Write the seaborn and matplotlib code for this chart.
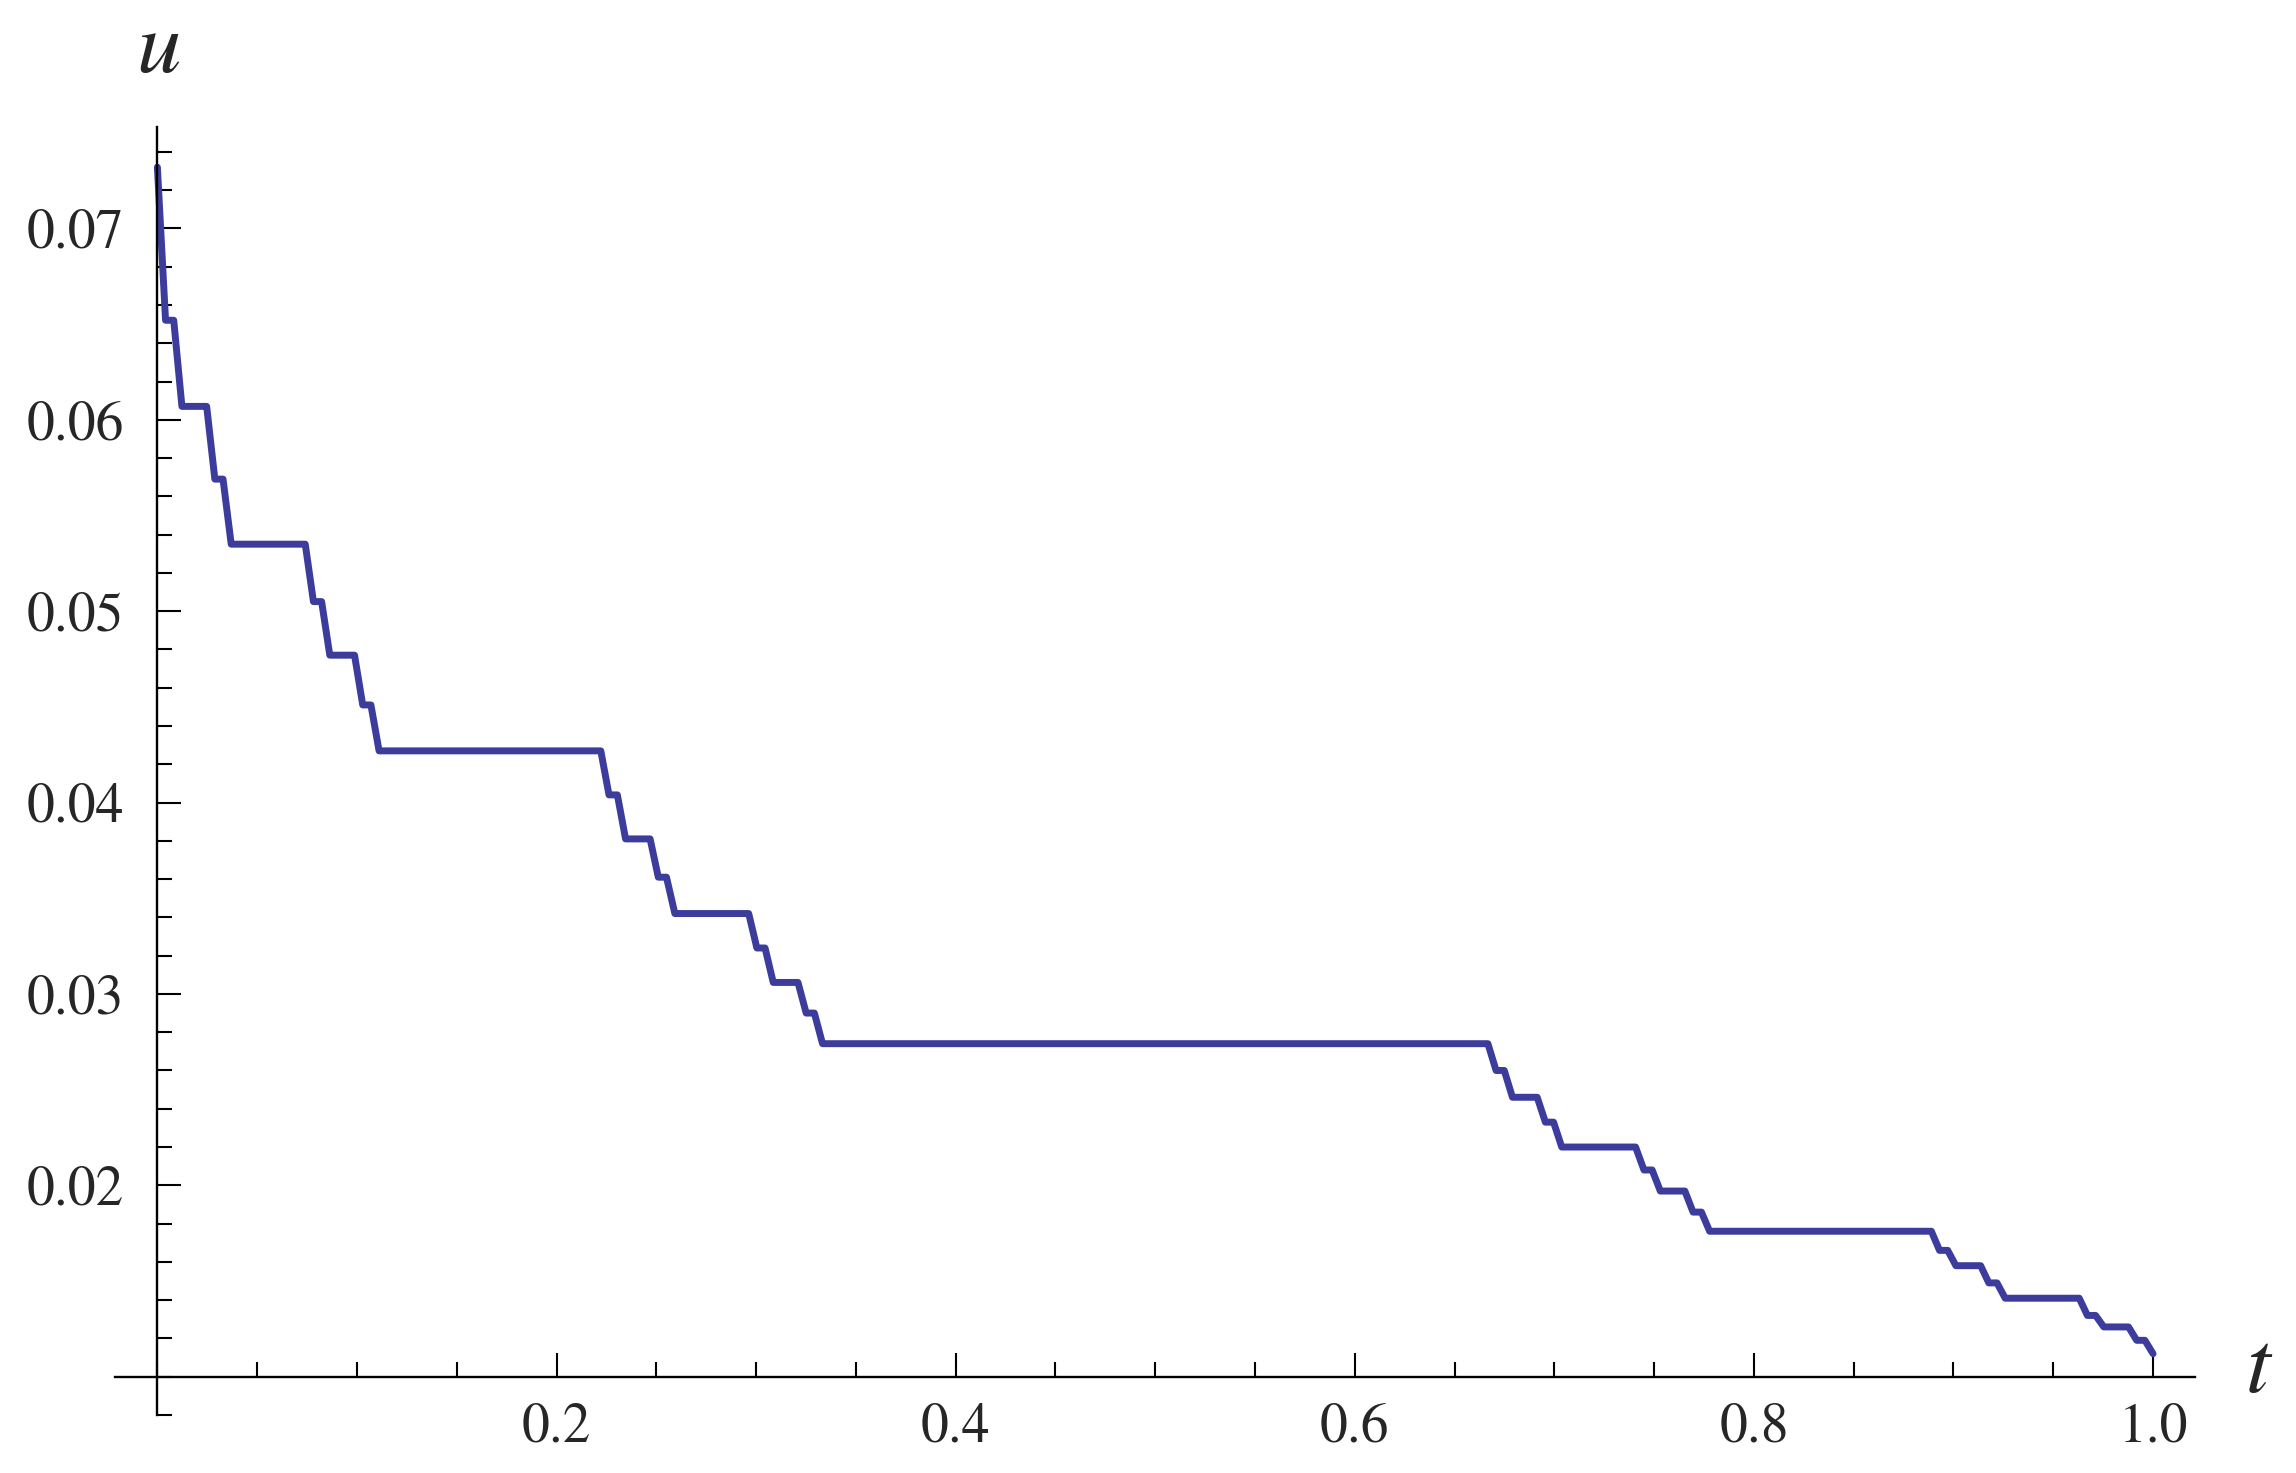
"""
Devil's-staircase style step curve u(t), drawn Mathematica-like with crossing axes.
"""

import matplotlib
matplotlib.use("Agg")
import matplotlib.pyplot as plt
import matplotlib.ticker as mticker
import seaborn as sns
import pandas as pd

# curve values
u_start = 0.0732
u_end = 0.0112

plateau_start = [
    0.0041, 0.0123, 0.0288, 0.0370, 0.0782, 0.0864, 0.1029, 0.1111,
    0.2263, 0.2346, 0.2510, 0.2593, 0.3004, 0.3086, 0.3251, 0.3333,
    0.6708, 0.6790, 0.6955, 0.7037, 0.7449, 0.7531, 0.7695, 0.7778,
    0.8930, 0.9012, 0.9177, 0.9259, 0.9671, 0.9753, 0.9918,
]
plateau_end = [
    0.0082, 0.0247, 0.0329, 0.0741, 0.0823, 0.0988, 0.1070, 0.2222,
    0.2305, 0.2469, 0.2551, 0.2963, 0.3045, 0.3210, 0.3292, 0.6667,
    0.6749, 0.6914, 0.6996, 0.7407, 0.7490, 0.7654, 0.7737, 0.8889,
    0.8971, 0.9136, 0.9218, 0.9630, 0.9712, 0.9877, 0.9959,
]
plateau_u = [
    0.0652, 0.0607, 0.0569, 0.0535, 0.0505, 0.0477, 0.0451, 0.0427,
    0.0404, 0.0381, 0.0361, 0.0342, 0.0324, 0.0306, 0.0290, 0.0274,
    0.0260, 0.0246, 0.0233, 0.0220, 0.0208, 0.0197, 0.0186, 0.0176,
    0.0166, 0.0158, 0.0149, 0.0141, 0.0132, 0.0126, 0.0119,
]

x_major = [0.2, 0.4, 0.6, 0.8, 1.0]
y_major = [0.02, 0.03, 0.04, 0.05, 0.06, 0.07]

# build the polyline: start point, both ends of every plateau, end point
t_pts = [0.0]
u_pts = [u_start]
for a, b, v in zip(plateau_start, plateau_end, plateau_u):
    t_pts += [a, b]
    u_pts += [v, v]
t_pts.append(1.0)
u_pts.append(u_end)
curve = pd.DataFrame({"t": t_pts, "u": u_pts})

sns.set_theme(style="white")
plt.rcParams["font.family"] = ["STIXGeneral", "Liberation Serif", "DejaVu Serif"]
plt.rcParams["mathtext.fontset"] = "stix"

fig = plt.figure(figsize=(22.96, 14.73), dpi=100)
ax = fig.add_axes([0.0502, 0.0394, 0.9058, 0.8744])

sns.lineplot(data=curve, x="t", y="u", ax=ax, estimator=None, sort=False,
             color="#3c3c9c", linewidth=5.0)

ax.set_xlim(-0.0211, 1.021)
ax.set_ylim(0.008, 0.0753)

# Mathematica-like axes crossing at (0, 0.01)
for side in ["top", "right"]:
    ax.spines[side].set_visible(False)
ax.spines["left"].set_position(("data", 0.0))
ax.spines["bottom"].set_position(("data", 0.01))
for side in ["left", "bottom"]:
    ax.spines[side].set_linewidth(1.7)
    ax.spines[side].set_color("black")

ax.xaxis.set_major_locator(mticker.FixedLocator(x_major))
ax.xaxis.set_minor_locator(mticker.MultipleLocator(0.05))
ax.xaxis.set_major_formatter(mticker.FormatStrFormatter("%.1f"))
ax.yaxis.set_major_locator(mticker.FixedLocator(y_major))
ax.yaxis.set_minor_locator(mticker.MultipleLocator(0.002))
ax.yaxis.set_major_formatter(mticker.FormatStrFormatter("%.2f"))

ax.tick_params(which="both", direction="in", color="black", width=1.5,
               bottom=True, left=True, labelsize=40)
ax.tick_params(which="major", length=17.5)
ax.tick_params(which="minor", length=10.8)
ax.tick_params(axis="x", pad=19)
ax.tick_params(axis="y", pad=24)

ax.set_xlabel("")
ax.set_ylabel("")
ax.grid(False)

fig.text(158 / 2296, 1 - 72 / 1473, "$u$", fontsize=64,
         ha="center", va="baseline")
fig.text(2259 / 2296, 1 - 1392 / 1473, "$t$", fontsize=64,
         ha="center", va="baseline")

fig.savefig("out.png", dpi=100, facecolor="white")
plt.close(fig)
